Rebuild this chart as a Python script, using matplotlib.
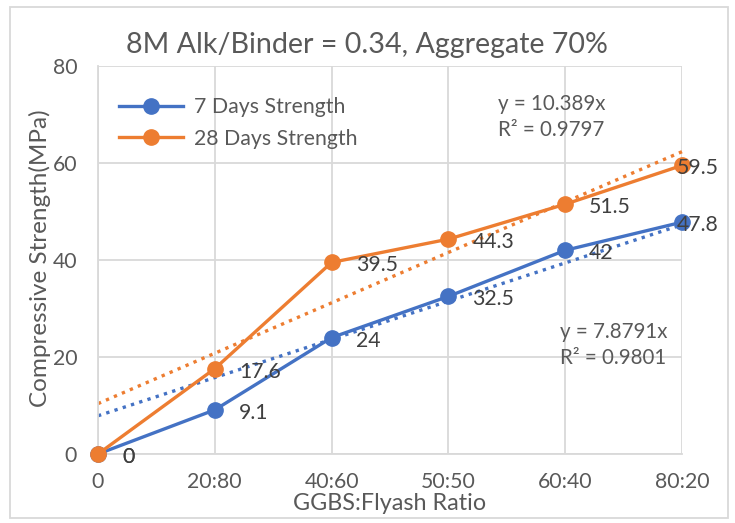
import numpy as np
import matplotlib
matplotlib.use('Agg')
import matplotlib.pyplot as plt

plt.rcParams['font.family'] = ['Lato', 'DejaVu Sans']

# данные с графика
ratios = ['0', '20:80', '40:60', '50:50', '60:40', '80:20']
strength_7 = [0, 9.1, 24, 32.5, 42, 47.8]
strength_28 = [0, 17.6, 39.5, 44.3, 51.5, 59.5]
slope_7 = 7.8791
slope_28 = 10.389
r2_7 = 0.9801
r2_28 = 0.9797

BLUE = '#4472C4'
ORANGE = '#ED7D31'
GRID = '#d9d9d9'
TXT = '#595959'
LBL = '#404040'
FS = 15.3

fig = plt.figure(figsize=(7.35, 5.23), dpi=100)
ax = fig.add_axes([98/735, 1-454/523, 584/735, 388/523])

x = np.arange(len(ratios))
# линии тренда (Excel: y = a*x, x от 1)
ax.plot(x, slope_28*(x+1), ls=(0, (1, 1.6)), lw=2.4, color=ORANGE, zorder=2, clip_on=False)
ax.plot(x, slope_7*(x+1), ls=(0, (1, 1.6)), lw=2.4, color=BLUE, zorder=2, clip_on=False)

ax.plot(x, strength_7, '-o', color=BLUE, lw=2.4, ms=11, label='7 Days Strength', zorder=4, clip_on=False)
ax.plot(x, strength_28, '-o', color=ORANGE, lw=2.4, ms=11, label='28 Days Strength', zorder=4, clip_on=False)

for series in (strength_7, strength_28):
    for i, v in enumerate(series):
        dx = -5 if i == len(series)-1 else 24
        ax.annotate(f'{v:g}', (i, v), xytext=(dx, -3), textcoords='offset pixels',
                    ha='left', va='center', fontsize=FS, color=LBL, zorder=5)

ax.set_xlim(0, 5)
ax.set_ylim(0, 80)
ax.set_xticks(x)
ax.set_xticklabels(ratios)
ax.set_yticks([0, 20, 40, 60, 80])
ax.tick_params(length=0, labelsize=FS, colors=TXT)
ax.tick_params(axis='x', pad=13)
ax.tick_params(axis='y', pad=15)
ax.grid(True, color=GRID, lw=1.3)
ax.set_axisbelow(True)
for s in ax.spines.values():
    s.set_visible(False)
for side in ('left', 'bottom'):
    ax.spines[side].set_visible(True)
    ax.spines[side].set_color(GRID)
    ax.spines[side].set_linewidth(1.3)

fig.text(390/735, 1-510/523, 'GGBS:Flyash Ratio', ha='center', va='baseline', fontsize=16.8, color=TXT)
fig.text(40/735, 1-258/523, 'Compressive Strength(MPa)', ha='center', va='center', rotation=90,
         fontsize=17.5, color=TXT)
fig.text(367/735, 1-45/523, '8M Alk/Binder = 0.34, Aggregate 70%', ha='center', va='center',
         fontsize=20.6, color=TXT)

fig.text(498/735, 1-104/523, f'y = {slope_28}x', fontsize=14.8, color=TXT, va='center')
fig.text(498/735, 1-130/523, f'R² = {r2_28}', fontsize=14.8, color=TXT, va='center')
fig.text(560/735, 1-332/523, f'y = {slope_7}x', fontsize=14.8, color=TXT, va='center')
fig.text(560/735, 1-358/523, f'R² = {r2_7}', fontsize=14.8, color=TXT, va='center')

leg = ax.legend(loc='upper left', bbox_to_anchor=(0.0, 0.975), frameon=False, fontsize=FS,
                handlelength=3.0, handletextpad=0.5, labelcolor=TXT, borderaxespad=0.6,
                labelspacing=0.55)

fig.patches.append(plt.Rectangle((10/735, 1-518/523), 718/735, 511/523, transform=fig.transFigure,
                                 fill=False, edgecolor=GRID, lw=1.3))
fig.savefig('out.png', dpi=100)
